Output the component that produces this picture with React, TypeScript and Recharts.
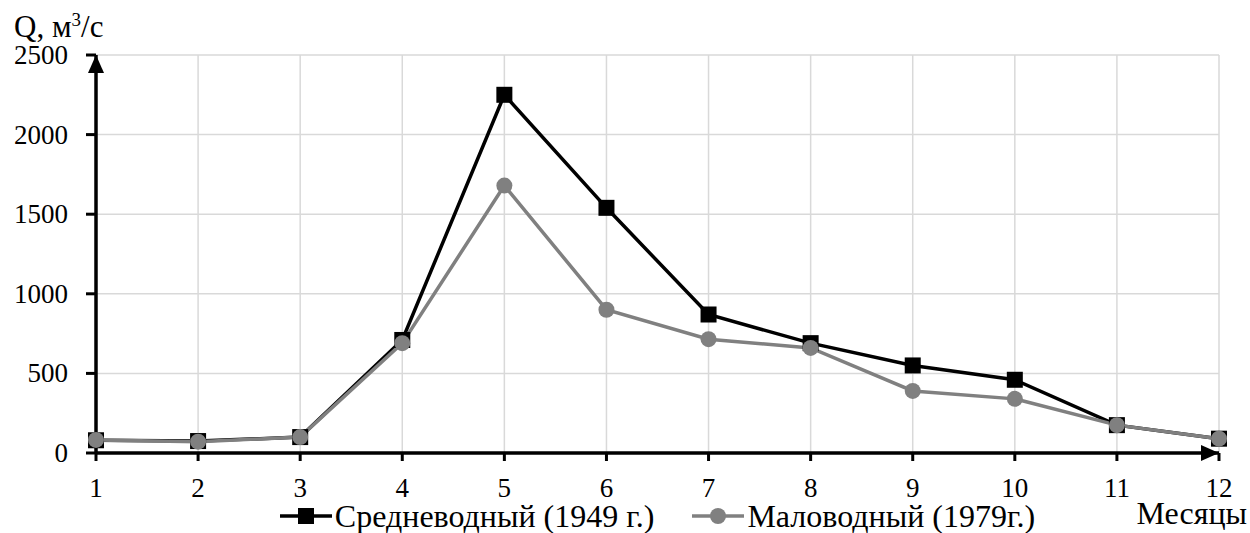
import { LineChart, Line, XAxis, YAxis, CartesianGrid, Legend } from "recharts";

const MONTHS = [1, 2, 3, 4, 5, 6, 7, 8, 9, 10, 11, 12];
const MEAN_1949 = [80, 75, 100, 710, 2250, 1540, 870, 690, 550, 460, 175, 90];
const LOW_1979 = [82, 71, 100, 690, 1680, 900, 715, 660, 390, 340, 175, 90];
const Y_TICKS = [0, 500, 1000, 1500, 2000, 2500];

const SERIES_KEYS = ["mean", "low"];
const SERIES_MEAN = "Средневодный (1949 г.)";
const SERIES_LOW = "Маловодный (1979г.)";
const X_TITLE = "Месяцы";
const Y_TITLE = "Q, м";

const FONT = "Liberation Serif";
const BLACK = "#000000";
const GREY = "#808080";
const GRID = "#d9d9d9";

const data = MONTHS.map((m, i) => ({ month: m, mean: MEAN_1949[i], low: LOW_1979[i] }));

function SquareDot({ cx, cy }: any) {
  if (cx == null || cy == null) return null;
  return <rect x={cx - 8} y={cy - 8} width={16} height={16} fill={BLACK} />;
}

function RoundDot({ cx, cy }: any) {
  if (cx == null || cy == null) return null;
  return <circle cx={cx} cy={cy} r={8} fill={GREY} />;
}

function MonthTick({ x, y, payload }: any) {
  return (
    <text x={x} y={y + 17} textAnchor="middle" fontFamily={FONT} fontSize={27} fill={BLACK}>
      {payload.value}
    </text>
  );
}

function ValueTick({ x, y, payload }: any) {
  return (
    <text x={x} y={y + 9} textAnchor="end" fontFamily={FONT} fontSize={27} fill={BLACK}>
      {payload.value}
    </text>
  );
}

function LegendIcon({ square, color }: { square: boolean; color: string }) {
  return (
    <svg width={52} height={20} style={{ display: "block" }}>
      <line x1={0} y1={10} x2={52} y2={10} stroke={color} strokeWidth={3.5} />
      {square ? <rect x={18} y={2} width={16} height={16} fill={color} /> : <circle cx={26} cy={10} r={8} fill={color} />}
    </svg>
  );
}

function LegendContent({ payload }: any) {
  // keep series order instead of the alphabetical one
  const items = [...(payload || [])].sort(
    (a: any, b: any) => SERIES_KEYS.indexOf(a.dataKey) - SERIES_KEYS.indexOf(b.dataKey)
  );
  return (
    <div style={{ display: "flex", justifyContent: "center", alignItems: "center", gap: 38, fontFamily: FONT, fontSize: 32, lineHeight: "26px" }}>
      {items.map((p: any) => (
        <div key={p.value} style={{ display: "flex", alignItems: "center", gap: 3 }}>
          <LegendIcon square={p.dataKey === "mean"} color={p.color} />
          <span>{p.value}</span>
        </div>
      ))}
    </div>
  );
}

export default function App() {
  return (
    <div style={{ position: "absolute", left: 0, top: 0, width: 1250, height: 533, background: "#fff", fontFamily: FONT }}>
      {/* arrow heads for the axis lines */}
      <svg width={0} height={0} style={{ position: "absolute" }}>
        <defs>
          <marker id="axisArrow" markerUnits="userSpaceOnUse" markerWidth={20} markerHeight={16} refX={18} refY={8} orient="auto-start-reverse">
            <path d="M0,0 L18,8 L0,16 z" fill={BLACK} />
          </marker>
        </defs>
      </svg>
      <LineChart width={1250} height={533} data={data} margin={{ top: 55, right: 31, bottom: 40, left: 0 }}>
        <CartesianGrid stroke={GRID} strokeWidth={1.5} />
        <XAxis
          type="number"
          dataKey="month"
          domain={[1, 12]}
          ticks={MONTHS}
          height={40}
          tickSize={8}
          tickMargin={19}
          axisLine={{ stroke: BLACK, strokeWidth: 3.5, markerEnd: "url(#axisArrow)" }}
          tickLine={{ stroke: BLACK, strokeWidth: 3 }}
          tick={<MonthTick />}
          label={({ viewBox }: any) => (
            <text x={viewBox.x + viewBox.width + 28} y={524} textAnchor="end" fontSize={32} fontFamily={FONT} fill={BLACK}>
              {X_TITLE}
            </text>
          )}
        />
        <YAxis
          type="number"
          domain={[0, 2500]}
          ticks={Y_TICKS}
          width={96}
          tickSize={10}
          tickMargin={18}
          axisLine={{ stroke: BLACK, strokeWidth: 3.5, markerStart: "url(#axisArrow)" }}
          tickLine={{ stroke: BLACK, strokeWidth: 3 }}
          tick={<ValueTick />}
          label={() => (
            <text x={14} y={37} fontSize={31} fontFamily={FONT} fill={BLACK}>
              {Y_TITLE}
              <tspan dy={-11} fontSize={19}>3</tspan>
              <tspan dy={11}>/с</tspan>
            </text>
          )}
        />
        <Legend
          layout="horizontal"
          verticalAlign="middle"
          align="center"
          wrapperStyle={{ left: 96, top: 503, width: 1123 }}
          content={<LegendContent />}
        />
        <Line
          dataKey="mean"
          name={SERIES_MEAN}
          stroke={BLACK}
          strokeWidth={3.5}
          dot={<SquareDot />}
          activeDot={false}
          isAnimationActive={false}
        />
        <Line
          dataKey="low"
          name={SERIES_LOW}
          stroke={GREY}
          strokeWidth={3.5}
          dot={<RoundDot />}
          activeDot={false}
          isAnimationActive={false}
        />
      </LineChart>
    </div>
  );
}
